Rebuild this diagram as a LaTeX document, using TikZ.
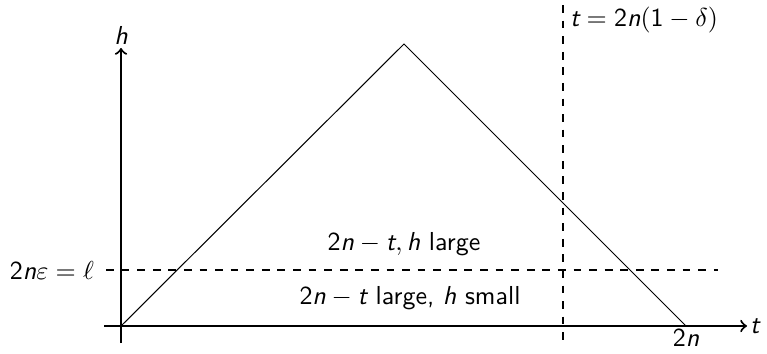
\documentclass[tikz,border=0pt]{standalone}
\newcommand\sv[1]{\mbox{\sffamily\itshape #1}}
\newcommand\sd[1]{\mbox{\sffamily #1}}
\begin{document}
\begin{tikzpicture}[x=0.385pt,y=-0.385pt,
  axis/.style={thick,->},
  edge/.style={thin},
  guide/.style={thin,dashed},
  lbl/.style={inner sep=1pt,font=\sffamily}]
\useasboundingbox (0,0) rectangle (767,354);
\coordinate (O) at (121,326);
\coordinate (ytop) at (121,48);
\coordinate (ybot) at (121,343);
\coordinate (xleft) at (104,326);
\coordinate (xright) at (747,326);
\coordinate (peak) at (404,44);
\coordinate (end) at (686,326);
\coordinate (hl) at (106,270);
\coordinate (hr) at (718,270);
\coordinate (vt) at (563,5);
\coordinate (vb) at (563,343);
\draw[axis] (ybot) -- (ytop);
\draw[axis] (xleft) -- (xright);
\node[lbl,anchor=south] (hlab) at (ytop) {\sv{h}};
\node[lbl,anchor=west] (tlab) at (xright) {\sv{t}};
\draw[edge] (O) -- (peak) -- (end);
\node[lbl,anchor=north] (twon) at (end) {2\sv{n}};
\draw[guide] (hl) -- (hr);
\node[lbl,anchor=east] (ell) at (97,270) {$\sd{2}\sv{n}\varepsilon=\ell$};
\draw[guide] (vt) -- (vb);
\node[lbl,anchor=west] (tdel) at (567,20) {$\sv{t}=\sd{2}\sv{n}(\sd{1}-\delta)$};
\node[lbl] (large) at (404,244) {$\sd{2}\sv{n}-\sv{t},\sv{h}$ large};
\node[lbl] (small) at (410,298) {$\sd{2}\sv{n}-\sv{t}$ large, \sv{h} small};
\end{tikzpicture}
\end{document}
